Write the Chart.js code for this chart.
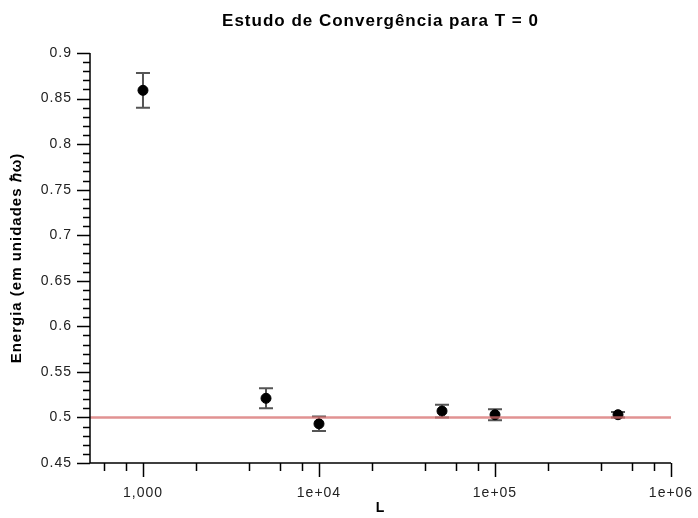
<!DOCTYPE html>
<html>
<head>
<meta charset="utf-8">
<script src="https://cdn.jsdelivr.net/npm/chart.js@4"></script>
<style>
  html, body { margin: 0; padding: 0; background: #fff; }
  #wrap { width: 698px; height: 518px; }
</style>
</head>
<body>
<div id="wrap"><canvas id="grafico" width="698" height="518"></canvas></div>
<script>
// dados
const valoresL = [1000, 5000, 10000, 50000, 100000, 500000];
const energias = [0.859, 0.521, 0.493, 0.507, 0.503, 0.503];
const erros = [0.019, 0.011, 0.008, 0.007, 0.006, 0.003];
const referencia = 0.5;

const xMajor = [1000, 10000, 100000, 1000000];
const xMajorLabels = ["1,000", "1e+04", "1e+05", "1e+06"];
const xMinor = [600, 800, 2000, 4000, 6000, 8000, 20000, 40000, 60000, 80000,
                200000, 400000, 600000, 800000];
const yMajor = [0.45, 0.5, 0.55, 0.6, 0.65, 0.7, 0.75, 0.8, 0.85, 0.9];
const yMajorLabels = ["0.45", "0.5", "0.55", "0.6", "0.65", "0.7", "0.75", "0.8", "0.85", "0.9"];

const fonte = "'Liberation Sans', Arial, sans-serif";

const isMajorY = (v) => yMajor.some((m) => Math.abs(m - v) < 1e-9);

// o texto original tem letras um pouco mais espacadas
const espacamento = {
    id: "espacamento",
    beforeLayout(chart) { chart.ctx.letterSpacing = "1px"; },
    beforeDraw(chart) { chart.ctx.letterSpacing = "1px"; },
};

// barras de erro + marcas dos eixos
const extras = {
    id: "extras",
    beforeDatasetsDraw(chart) {
        const ctx = chart.ctx;
        const x = chart.scales.x, y = chart.scales.y;
        ctx.save();
        ctx.strokeStyle = "#555";
        ctx.lineWidth = 2;
        valoresL.forEach((l, i) => {
            let px = x.getPixelForValue(l);
            let top = y.getPixelForValue(energias[i] + erros[i]);
            let bot = y.getPixelForValue(energias[i] - erros[i]);
            ctx.beginPath();
            ctx.moveTo(px, top); ctx.lineTo(px, bot);
            ctx.moveTo(px - 7, top); ctx.lineTo(px + 7, top);
            ctx.moveTo(px - 7, bot); ctx.lineTo(px + 7, bot);
            ctx.stroke();
        });
        ctx.restore();
    },
    afterDraw(chart) {
        const ctx = chart.ctx;
        const x = chart.scales.x, y = chart.scales.y;
        const area = chart.chartArea;
        ctx.save();
        ctx.strokeStyle = "#000";
        ctx.lineWidth = 1.5;
        ctx.beginPath();
        ctx.moveTo(area.left, area.top);
        ctx.lineTo(area.left, area.bottom);
        ctx.lineTo(area.right, area.bottom);
        xMajor.concat(xMinor).forEach((v) => {
            let px = Math.round(x.getPixelForValue(v)) + 0.5;
            let len = xMajor.includes(v) ? 14 : 8;
            ctx.moveTo(px, area.bottom);
            ctx.lineTo(px, area.bottom + len);
        });
        for (let k = 45; k <= 90; k++) {
            let v = k / 100;
            let py = Math.round(y.getPixelForValue(v)) + 0.5;
            let len = isMajorY(v) ? 13 : 7;
            ctx.moveTo(area.left, py);
            ctx.lineTo(area.left - len, py);
        }
        ctx.stroke();
        ctx.restore();
    },
};

new Chart(document.getElementById("grafico"), {
    type: "scatter",
    data: {
        datasets: [
            {
                label: "referencia",
                type: "line",
                data: [{ x: 500, y: referencia }, { x: 1000000, y: referencia }],
                borderColor: "rgba(215, 110, 110, 0.75)",
                borderWidth: 2.5,
                pointRadius: 0,
                order: 0,
            },
            {
                label: "energia",
                data: valoresL.map((l, i) => ({ x: l, y: energias[i] })),
                backgroundColor: "#000",
                borderColor: "#000",
                pointRadius: 5,
                order: 1,
            },
        ],
    },
    options: {
        responsive: false,
        animation: false,
        layout: { padding: { left: 0, right: 27, top: 0, bottom: 0 } },
        plugins: {
            legend: { display: false },
            tooltip: { enabled: false },
            title: {
                display: true,
                fullSize: false,
                text: "Estudo de Convergência para T = 0",
                color: "#000",
                font: { family: fonte, size: 17, weight: "bold" },
                padding: { top: 11, bottom: 21.6 },
            },
        },
        scales: {
            x: {
                type: "logarithmic",
                min: 500,
                max: 1000000,
                afterBuildTicks: (scale) => {
                    scale.ticks = xMajor.concat(xMinor).sort((a, b) => a - b).map((v) => ({ value: v }));
                },
                afterFit: (scale) => {
                    scale.height = 55;
                    scale.paddingLeft = 0;
                    scale.paddingRight = 0;
                },
                grid: { display: false, drawTicks: false },
                border: { display: false },
                ticks: {
                    autoSkip: false,
                    maxRotation: 0,
                    padding: 22,
                    color: "#222",
                    font: { family: fonte, size: 14 },
                    callback: (value) => {
                        let i = xMajor.indexOf(value);
                        return i >= 0 ? xMajorLabels[i] : "";
                    },
                },
                title: {
                    display: true,
                    text: "L",
                    color: "#000",
                    font: { family: fonte, size: 14, weight: "bold" },
                    padding: { top: 0, bottom: 1 },
                },
            },
            y: {
                min: 0.45,
                max: 0.9,
                afterBuildTicks: (scale) => {
                    let t = [];
                    for (let k = 45; k <= 90; k++) t.push({ value: k / 100 });
                    scale.ticks = t;
                },
                afterFit: (scale) => { scale.width = 90; },
                grid: { display: false, drawTicks: false },
                border: { display: false },
                ticks: {
                    autoSkip: false,
                    padding: 18,
                    color: "#222",
                    font: { family: fonte, size: 14 },
                    callback: (value) => {
                        let i = yMajor.findIndex((m) => Math.abs(m - value) < 1e-9);
                        return i >= 0 ? yMajorLabels[i] : "";
                    },
                },
                title: {
                    display: true,
                    text: "Energia (em unidades ℏω)",
                    color: "#000",
                    font: { family: fonte, size: 15, weight: "bold" },
                    padding: { top: 8, bottom: 0 },
                },
            },
        },
    },
    plugins: [espacamento, extras],
});
</script>
</body>
</html>
